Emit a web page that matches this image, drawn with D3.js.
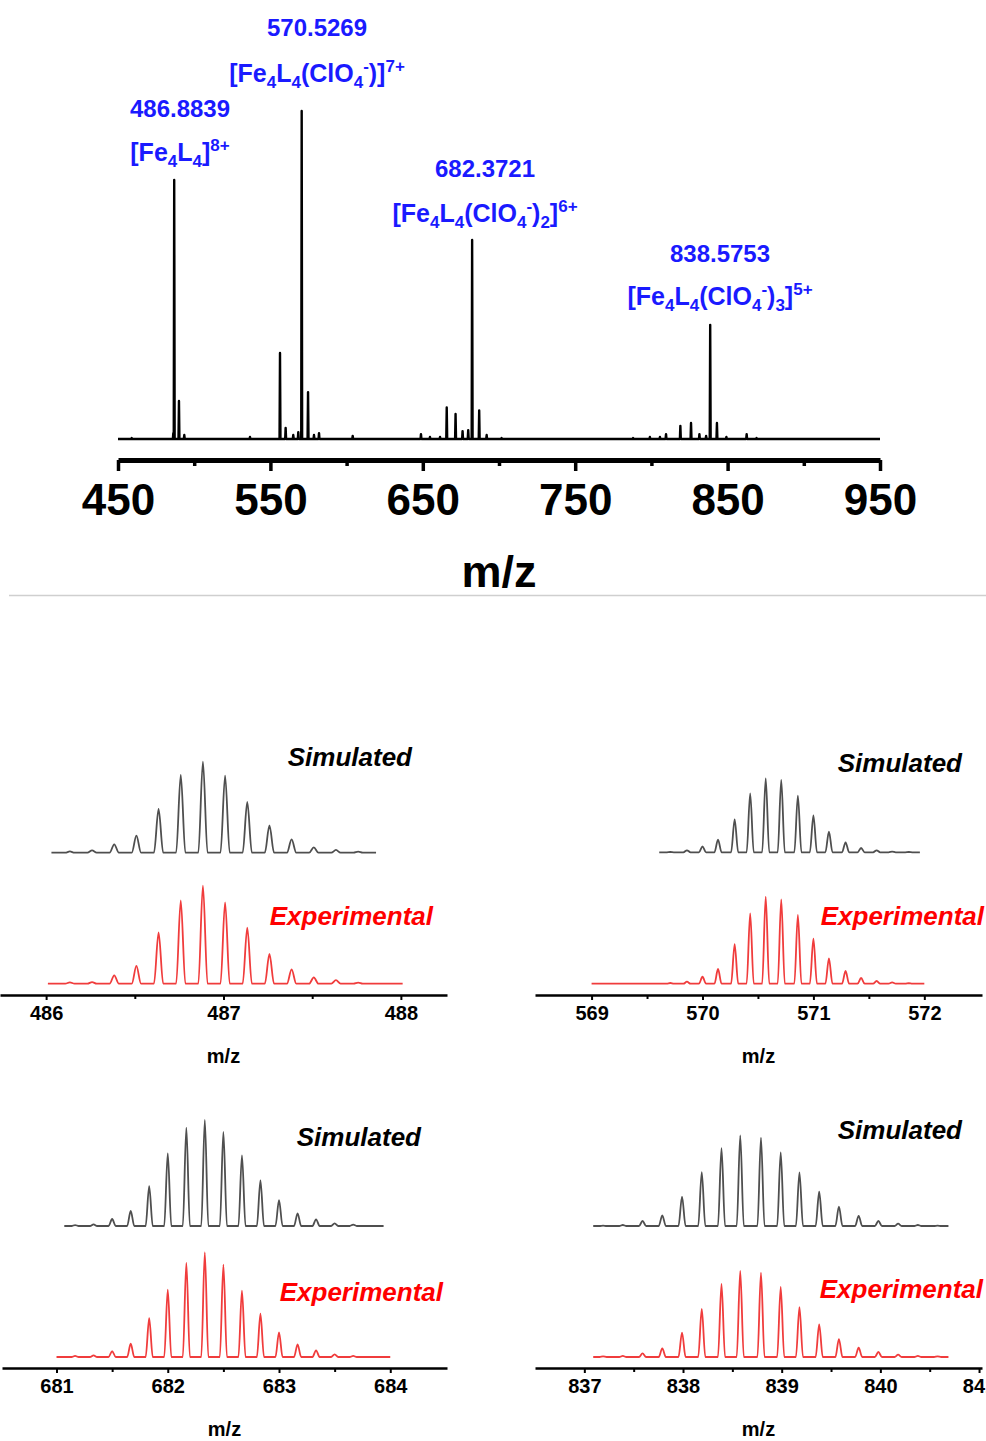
<!DOCTYPE html>
<html>
<head>
<meta charset="utf-8">
<script src="https://cdn.jsdelivr.net/npm/d3@7"></script>
<style>
  body { margin: 0; background: #fff; }
  svg { display: block; font-family: Arial, "Liberation Sans", sans-serif; }
</style>
</head>
<body>
<div class="vis"></div>
<script>
(function() {
  'use strict';

  // ---- overview spectrum (m/z, relative intensity %) ----
  var ovMz = [459, 486.3, 486.88, 490.0, 493.5, 536.6, 556.3, 560.0, 565.0, 568.3, 570.53, 574.7, 578.6, 581.9, 604,
    648.8, 654.7, 661.3, 665.7, 671.5, 676.1, 679.8, 682.37, 687.0, 691.9, 701.7,
    788, 799, 805.6, 809.6, 819, 826, 831.5, 835.9, 838.58, 843.0, 849.2, 862.5, 869];
  var ovInt = [0.3, 1.8, 79, 11.6, 1.2, 0.6, 26.2, 3.4, 1.2, 2.1, 100, 14.3, 1.2, 1.8, 0.9,
    1.5, 0.6, 0.6, 9.6, 7.6, 2.4, 2.7, 60.7, 8.7, 1.2, 0.3,
    0.3, 0.6, 0.6, 1.5, 4.0, 4.9, 1.5, 0.9, 34.8, 4.9, 0.6, 1.5, 0.3];
  var ovTicks = [450, 550, 650, 750, 850, 950];
  var ovMinor = [500, 600, 700, 800, 900];

  // peak annotations
  var labelMz = ['486.8839', '570.5269', '682.3721', '838.5753'];
  var labelIon = [
    [['[Fe'], ['4', 'sub'], ['L'], ['4', 'sub'], [']'], ['8+', 'sup']],
    [['[Fe'], ['4', 'sub'], ['L'], ['4', 'sub'], ['(ClO'], ['4', 'sub'], ['-', 'sup'], [')]'], ['7+', 'sup']],
    [['[Fe'], ['4', 'sub'], ['L'], ['4', 'sub'], ['(ClO'], ['4', 'sub'], ['-', 'sup'], [')'], ['2', 'sub'], [']'], ['6+', 'sup']],
    [['[Fe'], ['4', 'sub'], ['L'], ['4', 'sub'], ['(ClO'], ['4', 'sub'], ['-', 'sup'], [')'], ['3', 'sub'], [']'], ['5+', 'sup']]
  ];

  // ---- isotope patterns ----
  var mz486 = [486.134, 486.259, 486.384, 486.509, 486.634, 486.759, 486.884, 487.009, 487.134, 487.259, 487.384, 487.509, 487.634, 487.759];
  var sim486 = [1.4, 2.5, 9.1, 18.7, 48, 85.4, 100, 84.6, 55.7, 30, 14.6, 5.9, 3.0, 1.1];
  var exp486 = [1.4, 1.7, 8.5, 18.1, 52.4, 85, 100, 83, 57.1, 30.3, 14.6, 6.5, 3.7, 1.0];
  var span486 = [[486.03, 487.86], [486.01, 488.01]];
  var ticks486 = [486, 487, 488], minor486 = [486.5, 487.5];

  var mz570 = [569.71, 569.86, 570.00, 570.14, 570.29, 570.43, 570.57, 570.71, 570.86, 571.00, 571.14, 571.29, 571.43, 571.57, 571.71, 571.86];
  var sim570 = [0.4, 2.7, 8.1, 17.2, 44.6, 79.7, 100, 97.7, 76.6, 50, 28, 13.5, 5.8, 2.7, 0.9, 0.4];
  var exp570 = [0.8, 2.3, 8, 16.9, 45.6, 80.8, 100, 96.9, 79, 51.7, 29.1, 14.6, 6.6, 3.1, 1.5, 0.5];
  var span570 = [[569.61, 571.96], [569.0, 572.0]];
  var ticks570 = [569, 570, 571, 572], minor570 = [569.5, 570.5, 571.5];

  var mz682 = [681.167, 681.333, 681.5, 681.667, 681.833, 682.0, 682.167, 682.333, 682.5, 682.667, 682.833, 683.0, 683.167, 683.333, 683.5, 683.667];
  var sim682 = [0.9, 1.6, 6.6, 14.2, 37.5, 68.6, 92.7, 100, 88.7, 66.7, 43.1, 24.5, 12, 6.3, 2.5, 1.3];
  var exp682 = [1, 1.6, 5.7, 12.7, 37, 64.3, 89.8, 100, 88.2, 63.3, 41.4, 23.6, 12.1, 6.4, 2.6, 1];
  var span682 = [[681.07, 683.94], [681.0, 684.0]];
  var ticks682 = [681, 682, 683, 684], minor682 = [681.5, 682.5, 683.5];

  var mz838 = [837.19, 837.39, 837.59, 837.79, 837.99, 838.19, 838.39, 838.58, 838.79, 838.99, 839.18, 839.38, 839.58, 839.78, 839.98, 840.18, 840.38, 840.58];
  var sim838 = [0.4, 1.1, 5.5, 11.8, 32.4, 59.5, 85.7, 100, 97.4, 81.2, 59.2, 37.8, 21.3, 11, 5.5, 2.6, 1.1, 0.4];
  var exp838 = [0.8, 1.2, 4.3, 10.1, 28.3, 55.8, 84.9, 100, 98, 81.4, 58.1, 38, 20.9, 10.8, 5.8, 2.7, 1.2, 0.8];
  var span838 = [[837.09, 840.69], [837.09, 840.69]];
  var ticks838 = [837, 838, 839, 840, 841], minor838 = [837.5, 838.5, 839.5, 840.5];

  var blue = '#1a1aff', red = '#f03c3c', gray = '#4f4f4f', font = 'Arial, "Liberation Sans", sans-serif';

  var svg = d3.select('.vis').append('svg')
      .attr('width', 986)
      .attr('height', 1441);

  // turns a peak list into a stick-like trace on a flat baseline
  function peakTrace(mz, vals, span, w) {
    var pts = [[span[0], 0]];
    mz.forEach(function(m, i) {
      pts.push([m - w, 0], [m, vals[i]], [m + w, 0]);
    });
    pts.push([span[1], 0]);
    return pts;
  }

  // ---------------- overview ----------------
  var ovX = d3.scaleLinear().domain([450, 950]).range([118, 880]);
  var ovY = d3.scaleLinear().domain([0, 100]).range([439, 111]);

  svg.append('path')
      .datum(peakTrace(ovMz, ovInt, [450, 950], 0.3))
      .attr('fill', 'none')
      .attr('stroke', '#000')
      .attr('stroke-width', 2.4)
      .attr('stroke-linejoin', 'round')
      .attr('d', d3.line()
        .x(function(d) { return ovX(d[0]); })
        .y(function(d) { return ovY(d[1]); }));

  var ovAxis = svg.append('g')
      .attr('transform', 'translate(0,460)')
      .call(d3.axisBottom(ovX).tickValues(ovTicks).tickSize(11).tickSizeOuter(0).tickFormat(d3.format('d')))
      .attr('font-family', font)
      .attr('font-size', 44)
      .attr('font-weight', 'bold');
  ovAxis.select('.domain').attr('stroke-width', 5);
  ovAxis.selectAll('.tick line').attr('stroke-width', 3.5);
  ovAxis.selectAll('.tick text').attr('fill', '#000').attr('dy', null).attr('y', 55);

  var ovMinorAxis = svg.append('g')
      .attr('transform', 'translate(0,460)')
      .call(d3.axisBottom(ovX).tickValues(ovMinor).tickSize(6).tickFormat(''));
  ovMinorAxis.select('.domain').remove();
  ovMinorAxis.selectAll('.tick line').attr('stroke-width', 3.5);

  svg.append('text')
      .attr('x', (ovX.range()[0] + ovX.range()[1]) / 2)
      .attr('y', 587)
      .attr('text-anchor', 'middle')
      .attr('font-size', 45)
      .attr('font-weight', 'bold')
      .text('m/z');

  // annotations above the four main peaks
  var annPos = [[180, 117, 161], [317, 36, 82], [485, 177, 222], [720, 262, 305]];
  labelMz.forEach(function(lbl, i) {
    var p = annPos[i];
    svg.append('text')
        .attr('x', p[0]).attr('y', p[1])
        .attr('text-anchor', 'middle')
        .attr('fill', blue)
        .attr('font-size', 24)
        .attr('font-weight', 'bold')
        .text(lbl);

    var t = svg.append('text')
        .attr('x', p[0]).attr('y', p[2])
        .attr('text-anchor', 'middle')
        .attr('fill', blue)
        .attr('font-size', 25)
        .attr('font-weight', 'bold');
    var shift = 0;
    labelIon[i].forEach(function(part) {
      var target = part[1] === 'sub' ? 6 : part[1] === 'sup' ? -10 : 0;
      var ts = t.append('tspan')
          .attr('dy', target - shift)
          .text(part[0]);
      if (part[1]) ts.attr('font-size', 17);
      shift = target;
    });
  });

  // separator
  svg.append('line')
      .attr('x1', 9).attr('x2', 986)
      .attr('y1', 595.5).attr('y2', 595.5)
      .attr('stroke', '#cfcfcf')
      .attr('stroke-width', 1.5);

  // ---------------- isotope panels ----------------
  var panels = [
    {mz: mz486, sim: sim486, exp: exp486, span: span486, ticks: ticks486, minor: minor486,
     domain: [485.74, 488.26], range: [0, 447], axisY: 995, simBase: 852.7, simH: 91, expBase: 983.7, expH: 98,
     simText: [412, 766], expText: [433, 925], w: 0.026},
    {mz: mz570, sim: sim570, exp: exp570, span: span570, ticks: ticks570, minor: minor570,
     domain: [568.49, 572.52], range: [535, 982], axisY: 995, simBase: 852.3, simH: 74, expBase: 983.7, expH: 87,
     simText: [962, 772], expText: [984, 925], w: 0.032},
    {mz: mz682, sim: sim682, exp: exp682, span: span682, ticks: ticks682, minor: minor682,
     domain: [680.51, 684.51], range: [2, 447], axisY: 1368, simBase: 1226, simH: 106, expBase: 1357, expH: 104.7,
     simText: [421, 1146], expText: [443, 1301], w: 0.032},
    {mz: mz838, sim: sim838, exp: exp838, span: span838, ticks: ticks838, minor: minor838,
     domain: [836.5, 841.03], range: [535, 982], axisY: 1368, simBase: 1226, simH: 90.7, expBase: 1357, expH: 86,
     simText: [962, 1139], expText: [983, 1298], w: 0.036}
  ];

  panels.forEach(function(p) {
    var x = d3.scaleLinear().domain(p.domain).range(p.range);
    var ySim = d3.scaleLinear().domain([0, 100]).range([p.simBase, p.simBase - p.simH]);
    var yExp = d3.scaleLinear().domain([0, 100]).range([p.expBase, p.expBase - p.expH]);

    [[p.sim, p.span[0], ySim, gray], [p.exp, p.span[1], yExp, red]].forEach(function(tr) {
      svg.append('path')
          .datum(peakTrace(p.mz, tr[0], tr[1], p.w))
          .attr('fill', 'none')
          .attr('stroke', tr[3])
          .attr('stroke-width', 1.8)
          .attr('d', d3.line()
            .curve(d3.curveMonotoneX)
            .x(function(d) { return x(d[0]); })
            .y(function(d) { return tr[2](d[1]); }));
    });

    var ax = svg.append('g')
        .attr('transform', 'translate(0,' + p.axisY + ')')
        .call(d3.axisBottom(x).tickValues(p.ticks).tickSize(5).tickSizeOuter(0).tickFormat(d3.format('d')))
        .attr('font-family', font)
        .attr('font-size', 20)
        .attr('font-weight', 'bold');
    ax.select('.domain').attr('stroke-width', 2.5);
    ax.selectAll('.tick line').attr('stroke-width', 2);
    ax.selectAll('.tick text').attr('fill', '#000').attr('dy', null).attr('y', 25);

    var mn = svg.append('g')
        .attr('transform', 'translate(0,' + p.axisY + ')')
        .call(d3.axisBottom(x).tickValues(p.minor).tickSize(4).tickFormat(''));
    mn.select('.domain').remove();
    mn.selectAll('.tick line').attr('stroke-width', 2);

    svg.append('text')
        .attr('x', (p.range[0] + p.range[1]) / 2)
        .attr('y', p.axisY + 68)
        .attr('text-anchor', 'middle')
        .attr('font-size', 20)
        .attr('font-weight', 'bold')
        .text('m/z');

    svg.append('text')
        .attr('x', p.simText[0]).attr('y', p.simText[1])
        .attr('text-anchor', 'end')
        .attr('font-size', 26)
        .attr('font-weight', 'bold')
        .attr('font-style', 'italic')
        .attr('fill', '#000')
        .text('Simulated');

    svg.append('text')
        .attr('x', p.expText[0]).attr('y', p.expText[1])
        .attr('text-anchor', 'end')
        .attr('font-size', 26)
        .attr('font-weight', 'bold')
        .attr('font-style', 'italic')
        .attr('fill', '#ff0000')
        .text('Experimental');
  });
}());
</script>
</body>
</html>
